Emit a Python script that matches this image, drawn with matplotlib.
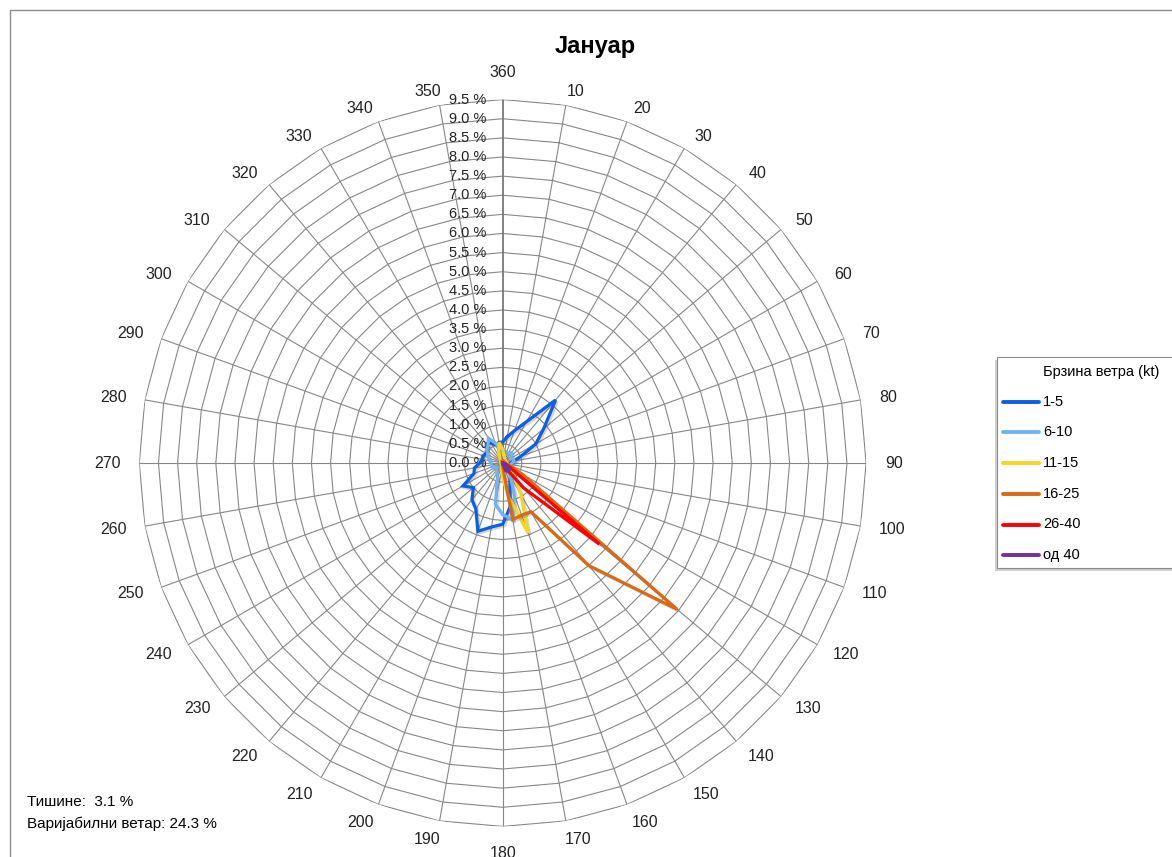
import matplotlib
matplotlib.use('Agg')
import matplotlib.pyplot as plt
import matplotlib.patheffects as pe
from matplotlib.patches import Rectangle
from matplotlib.lines import Line2D
import numpy as np

plt.rcParams['font.family'] = ['Liberation Sans', 'DejaVu Sans']

# directions 10..360 (deg), values in % of observations
dirs = list(range(10, 361, 10))

speed_labels = ['1-5', '6-10', '11-15', '16-25', '26-40', 'од 40']
speed_colors = ['#0A5FE6', '#72B2F7', '#F4D622', '#DD6813', '#FF0000', '#7030A0']

#            10    20    30    40    50    60    70    80    90   100   110   120
kt_1_5 = [0.70, 0.90, 1.25, 2.15, 1.40, 1.00, 0.50, 0.30, 0.20, 0.20, 0.20, 0.15,
          #  130   140   150   160   170   180   190   200   210   220   230   240
          0.20, 0.30, 0.40, 0.55, 1.15, 1.60, 1.70, 1.90, 1.40, 1.25, 1.00, 1.20,
          #  250   260   270   280   290   300   310   320   330   340   350   360
          0.80, 0.75, 0.60, 0.55, 0.55, 0.50, 0.55, 0.66, 0.60, 0.50, 0.55, 0.55]
kt_6_10 = [0.30, 0.30, 0.30, 0.35, 0.30, 0.25, 0.30, 0.30, 0.25, 0.20, 0.20, 0.20,
           0.25, 0.30, 0.40, 0.90, 1.50, 1.35, 1.10, 0.40, 0.30, 0.25, 0.20, 0.25,
           0.30, 0.30, 0.30, 0.35, 0.40, 0.45, 0.55, 0.60, 0.75, 0.55, 0.40, 0.30]
kt_11_15 = [0.20, 0.15, 0.10, 0.10, 0.10, 0.10, 0.10, 0.10, 0.10, 0.10, 0.15, 0.20,
            0.30, 0.50, 0.95, 1.95, 0.90, 0.40, 0.20, 0.10, 0.05, 0.05, 0.05, 0.05,
            0.05, 0.05, 0.05, 0.05, 0.05, 0.05, 0.05, 0.10, 0.15, 0.30, 0.55, 0.35]
kt_16_25 = [0.05, 0.05, 0.05, 0.05, 0.05, 0.05, 0.05, 0.05, 0.05, 0.05, 0.20, 0.60,
            5.95, 3.50, 1.47, 1.45, 1.50, 0.10, 0.05, 0.00, 0.00, 0.00, 0.00, 0.00,
            0.00, 0.00, 0.00, 0.00, 0.00, 0.00, 0.00, 0.00, 0.00, 0.05, 0.05, 0.05]
kt_26_40 = [0.00, 0.00, 0.00, 0.00, 0.00, 0.00, 0.00, 0.00, 0.00, 0.05, 0.10, 0.20,
            3.30, 0.85, 0.15, 0.05, 0.00, 0.00, 0.00, 0.00, 0.00, 0.00, 0.00, 0.00,
            0.00, 0.00, 0.00, 0.00, 0.00, 0.00, 0.00, 0.00, 0.00, 0.00, 0.00, 0.00]
kt_40 = [0.00, 0.00, 0.00, 0.00, 0.00, 0.00, 0.00, 0.00, 0.00, 0.00, 0.00, 0.10,
         0.20, 0.25, 0.25, 0.20, 0.00, 0.00, 0.00, 0.00, 0.00, 0.00, 0.00, 0.00,
         0.00, 0.00, 0.00, 0.00, 0.00, 0.00, 0.00, 0.00, 0.00, 0.00, 0.00, 0.00]
series = [kt_1_5, kt_6_10, kt_11_15, kt_16_25, kt_26_40, kt_40]

r_ticks = np.arange(0, 9.51, 0.5)
legend_title = 'Брзина ветра (kt)'
calm_txt = 'Тишине:  3.1 %'
var_txt = 'Варијабилни ветар: 24.3 %'

W, H = 1172, 857
fig = plt.figure(figsize=(W / 100, H / 100), dpi=100)

# outer chart frame (right/bottom edges are outside the image)
fig.patches.append(Rectangle((10 / W, -0.1), 1.2, (H - 10) / H + 0.1, transform=fig.transFigure,
                             fill=False, edgecolor='#8c8c8c', lw=1.0))

cx, cy, rad = 502.7, 463.0, 363.4
ax = fig.add_axes([(cx - rad) / W, (H - cy - rad) / H, 2 * rad / W, 2 * rad / H], projection='polar')
ax.set_theta_zero_location('N')
ax.set_theta_direction(-1)
ax.set_ylim(0, 9.5)
ax.grid(False)
ax.set_xticks([])
ax.set_yticks([])
ax.spines['polar'].set_visible(False)

th = np.deg2rad(dirs)
th_closed = np.append(th, th[0])
grid_c = '#878787'
for r in r_ticks[1:]:
    ax.plot(th_closed, [r] * len(th_closed), color=grid_c, lw=0.8, zorder=1)
for t, d in zip(th, dirs):
    ax.plot([t, t], [0, 9.5], color='#777777' if d == 360 else grid_c,
            lw=1.3 if d == 360 else 0.8, zorder=1)

# direction labels (pushed sideways a bit like Excel does)
for t, d in zip(th, dirs):
    lab = str(d)
    if d in (180, 360):
        rr, ox, oy = 10.2, 0, 0
    else:
        rr = 10.0
        ox = np.tanh(5 * np.sin(t)) * (3.5 * len(lab) + 2)
        c = np.cos(t)
        oy = -5 * c if c > 0 else 0
    ax.annotate(lab, xy=(t, rr), xytext=(ox, oy), textcoords='offset pixels',
                ha='center', va='center', fontsize=11.5, color='#222222',
                annotation_clip=False)

# value axis labels
for v in r_ticks:
    ax.annotate(f'{v:.1f} %', xy=(0, v), xytext=(-12, 0), textcoords='offset points',
                ha='right', va='center', fontsize=10.5, color='#222222',
                annotation_clip=False)

shadow = [pe.SimpleLineShadow(offset=(1.2, -1.2), alpha=0.25, shadow_color='#555555'), pe.Normal()]
for vals, col, lab in zip(series, speed_colors, speed_labels):
    ax.plot(th_closed, np.append(vals, vals[0]), color=col, lw=2.3, label=lab,
            solid_joinstyle='miter', path_effects=shadow, zorder=3)

fig.text(595 / W, 1 - 47 / H, 'Јануар', ha='center', va='center', fontsize=17, fontweight='bold')
fig.text(27 / W, 1 - 802 / H, calm_txt, ha='left', va='center', fontsize=11)
fig.text(27 / W, 1 - 824 / H, var_txt, ha='left', va='center', fontsize=11)

# legend box
lx0, ly_top, ly_bot = 997, 357, 568
fig.patches.append(Rectangle(((lx0 - 2) / W, 1 - (ly_bot + 3) / H), 200 / W, (ly_bot - ly_top) / H,
                             transform=fig.transFigure, facecolor='#a8a8a8', alpha=0.55,
                             edgecolor='none', zorder=5))
fig.patches.append(Rectangle((lx0 / W, 1 - ly_bot / H), 200 / W, (ly_bot - ly_top) / H,
                             transform=fig.transFigure, facecolor='white', edgecolor='#8c8c8c',
                             lw=0.8, zorder=6))
fig.text(1043 / W, 1 - 372 / H, legend_title, ha='left', va='center', fontsize=10.5, zorder=7)
for i, (col, lab) in enumerate(zip(speed_colors, speed_labels)):
    yy = 1 - (401.7 + i * 30.7) / H
    fig.lines.append(Line2D([1003 / W, 1039 / W], [yy, yy], transform=fig.transFigure,
                            color=col, lw=2.8, solid_capstyle='round', zorder=7))
    fig.text(1043 / W, yy, lab, ha='left', va='center', fontsize=10.5, zorder=7)

fig.savefig('out.png', dpi=100)
